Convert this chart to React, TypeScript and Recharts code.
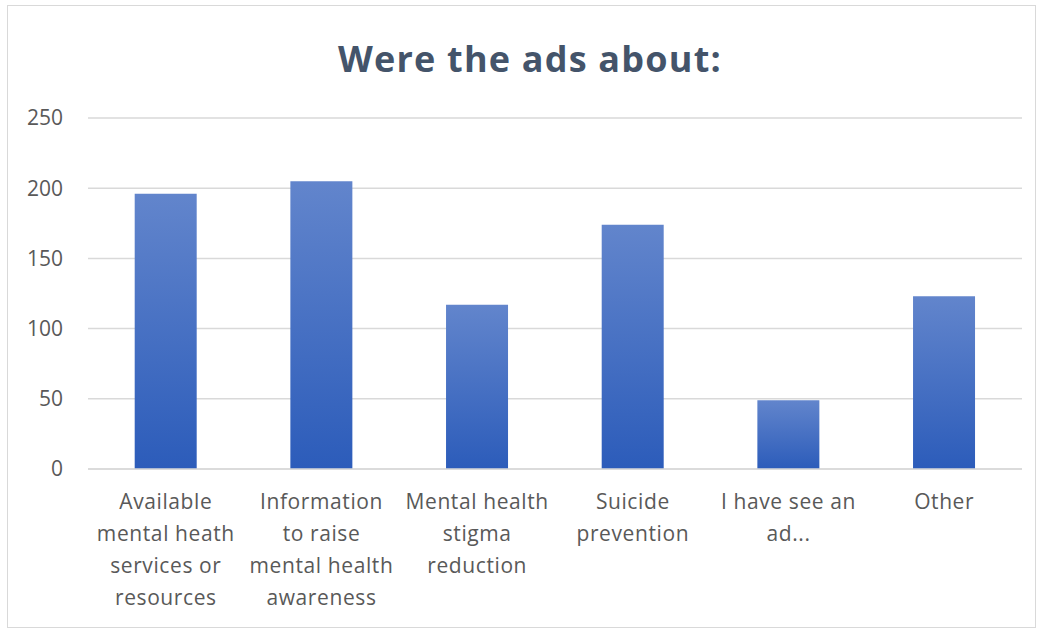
import React from "react";
import { BarChart, Bar, XAxis, YAxis, CartesianGrid } from "recharts";

const categories = [
  "Available mental heath services or resources",
  "Information to raise mental health awareness",
  "Mental health stigma reduction",
  "Suicide prevention",
  "I have see an ad...",
  "Other",
];
const values = [196, 205, 117, 174, 49, 123];
const labelLines = [
  ["Available", "mental heath", "services or", "resources"],
  ["Information", "to raise", "mental health", "awareness"],
  ["Mental health", "stigma", "reduction"],
  ["Suicide", "prevention"],
  ["I have see an", "ad..."],
  ["Other"],
];
const yTicks = [0, 50, 100, 150, 200, 250];
const title = "Were the ads about:";

const data = categories.map((c, i) => ({ name: c, value: values[i], lines: labelLines[i] }));

const FONT = "'Open Sans', Lato, sans-serif";

const XTick = (props: any) => {
  const { x, y, payload, index } = props;
  const lines = labelLines[index] ?? [payload.value];
  return (
    <text x={x} y={y} textAnchor="middle" fill="#595959" fontSize={21} letterSpacing={0.6} fontFamily={FONT}>
      {lines.map((l: string, i: number) => (
        <tspan key={i} x={x} y={y + 40 + i * 32}>
          {l}
        </tspan>
      ))}
    </text>
  );
};

export default function App() {
  return (
    <div style={{ position: "absolute", left: 0, top: 0, width: 1040, height: 630, background: "#fff" }}>
      <svg width={1040} height={630} style={{ position: "absolute", left: 0, top: 0 }}>
        <rect x={7.5} y={5.5} width={1028} height={622} fill="#fff" stroke="#d9d9d9" strokeWidth={1} />
        <text x={530} y={72} textAnchor="middle" fontSize={36} fontWeight={700} letterSpacing={1.2} fill="#44546a" fontFamily={FONT}>
          {title}
        </text>
      </svg>
      <div style={{ position: "absolute", left: 0, top: 0 }}>
        <BarChart
          width={1040}
          height={630}
          data={data}
          margin={{ top: 118, right: 18, bottom: 0, left: 0 }}
          barCategoryGap="30%"
        >
          <defs>
            <linearGradient id="barGrad" x1="0" y1="0" x2="0" y2="1">
              <stop offset="0%" stopColor="#6285cc" />
              <stop offset="100%" stopColor="#2c5cba" />
            </linearGradient>
          </defs>
          <CartesianGrid vertical={false} stroke="#d9d9d9" strokeWidth={1.5} />
          <XAxis
            dataKey="name"
            interval={0}
            tickLine={false}
            axisLine={{ stroke: "#d9d9d9", strokeWidth: 1.5 }}
            tickSize={0}
            tickMargin={0}
            height={161}
            tick={<XTick />}
          />
          <YAxis
            domain={[0, 250]}
            ticks={yTicks}
            width={88}
            axisLine={false}
            tickLine={false}
            tickSize={0}
            tickMargin={25}
            tick={{ fill: "#595959", fontSize: 21, fontFamily: FONT }}
          />
          <Bar dataKey="value" fill="url(#barGrad)" isAnimationActive={false} />
        </BarChart>
      </div>
    </div>
  );
}
